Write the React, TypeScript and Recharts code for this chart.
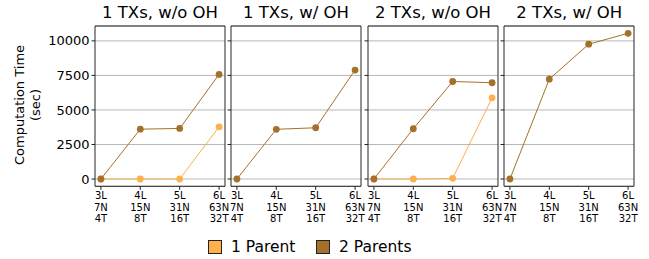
import React from "react";
import {
  CartesianGrid,
  LineChart,
  Line,
  ReferenceArea,
  XAxis,
  YAxis,
} from "recharts";

/* values */
const categories = [
  ["3L", "7N", "4T"],
  ["4L", "15N", "8T"],
  ["5L", "31N", "16T"],
  ["6L", "63N", "32T"],
];
const panelTitles = ["1 TXs, w/o OH", "1 TXs, w/ OH", "2 TXs, w/o OH", "2 TXs, w/ OH"];
const oneParent: (number[] | null)[] = [
  [0, 0, 0, 3780],
  null,
  [0, 0, 50, 5880],
  null,
];
const twoParents: number[][] = [
  [0, 3610, 3660, 7570],
  [0, 3600, 3710, 7890],
  [0, 3640, 7060, 6970],
  [0, 7230, 9760, 10550],
];
const yTicks = [0, 2500, 5000, 7500, 10000];

const LIGHT = "#fdb04b";
const DARK = "#a5712a";
const FONT = "DejaVu Sans";

const panelLeft = [95, 231, 368, 504.3];
const PANEL_W = 130;
const PLOT_TOP = 26;
const PLOT_BOTTOM = 186.3;
const H = 259;
const X_AXIS_H = 30;
const X_DOMAIN: [number, number] = [-0.15, 3.15];
const Y_DOMAIN: [number, number] = [-527, 11077];

function CatTick(props: any) {
  const { x, y, payload } = props;
  const lines = categories[payload.value] || [];
  return (
    <text x={x} textAnchor="middle" fontSize={10} fontFamily={FONT} fill="#000">
      {lines.map((l, i) => (
        <tspan key={i} x={x} y={y + 7.5 + i * 11.4}>
          {l}
        </tspan>
      ))}
    </text>
  );
}

function Panel({ idx }: { idx: number }) {
  const padL = idx === 0 ? panelLeft[0] : 10;
  const padR = 10;
  const rows = categories.map((_, i) => ({
    x: i,
    one: oneParent[idx] ? (oneParent[idx] as number[])[i] : undefined,
    two: twoParents[idx][i],
  }));
  return (
    <div style={{ position: "absolute", left: panelLeft[idx] - padL, top: 0 }}>
      <LineChart
        width={PANEL_W + padL + padR}
        height={H}
        data={rows}
        margin={{ top: PLOT_TOP, right: padR, left: 0, bottom: H - PLOT_BOTTOM - X_AXIS_H }}
      >
        <CartesianGrid vertical={false} stroke="#b8b8b8" strokeWidth={1} />
        <XAxis
          type="number"
          dataKey="x"
          domain={X_DOMAIN}
          ticks={[0, 1, 2, 3]}
          allowDataOverflow
          axisLine={false}
          tickSize={3.5}
          tickLine={{ stroke: "#222" }}
          height={X_AXIS_H}
          tick={<CatTick />}
          interval={0}
        />
        <YAxis
          type="number"
          domain={Y_DOMAIN}
          ticks={yTicks}
          allowDataOverflow
          axisLine={false}
          tickSize={3.5}
          tickLine={{ stroke: "#222" }}
          width={padL}
          interval={0}
          tick={
            idx === 0
              ? { fontSize: 13, fontFamily: FONT, fill: "#000" }
              : () => <g />
          }
        />
        {oneParent[idx] && (
          <Line
            dataKey="one"
            stroke={LIGHT}
            strokeWidth={1}
            dot={{ r: 3.4, fill: LIGHT, stroke: LIGHT, strokeWidth: 0 }}
            isAnimationActive={false}
          />
        )}
        <Line
          dataKey="two"
          stroke={DARK}
          strokeWidth={1}
          dot={{ r: 3.4, fill: DARK, stroke: DARK, strokeWidth: 0 }}
          isAnimationActive={false}
        />
        <ReferenceArea
          x1={X_DOMAIN[0]}
          x2={X_DOMAIN[1]}
          y1={Y_DOMAIN[0]}
          y2={Y_DOMAIN[1]}
          fill="none"
          fillOpacity={0}
          stroke="#262626"
          strokeWidth={1}
        />
      </LineChart>
      <div
        style={{
          position: "absolute",
          left: padL,
          top: 3,
          width: PANEL_W,
          textAlign: "center",
          fontFamily: FONT,
          fontSize: 16.5,
          lineHeight: "20px",
          whiteSpace: "nowrap",
        }}
      >
        {panelTitles[idx]}
      </div>
    </div>
  );
}

function LegendItem({ color, label, left }: { color: string; label: string; left: number }) {
  return (
    <div style={{ position: "absolute", left, top: 239, display: "flex", alignItems: "center" }}>
      <div
        style={{
          width: 14,
          height: 14,
          background: color,
          border: "1px solid #222",
          boxSizing: "border-box",
        }}
      />
      <span style={{ marginLeft: 9, fontFamily: FONT, fontSize: 15.5, lineHeight: "16px" }}>
        {label}
      </span>
    </div>
  );
}

export default function App() {
  return (
    <div
      style={{
        position: "absolute",
        left: 0,
        top: 0,
        width: 649,
        height: H,
        background: "#fff",
        overflow: "hidden",
      }}
    >
      {panelTitles.map((_, i) => (
        <Panel key={i} idx={i} />
      ))}
      <div
        style={{
          position: "absolute",
          left: 28,
          top: 105,
          transform: "translate(-50%, -50%) rotate(-90deg)",
          fontFamily: FONT,
          fontSize: 13,
          lineHeight: "16px",
          textAlign: "center",
          whiteSpace: "nowrap",
        }}
      >
        Computation Time
        <br />
        (sec)
      </div>
      <LegendItem color={LIGHT} label="1 Parent" left={208} />
      <LegendItem color={DARK} label="2 Parents" left={316} />
    </div>
  );
}
